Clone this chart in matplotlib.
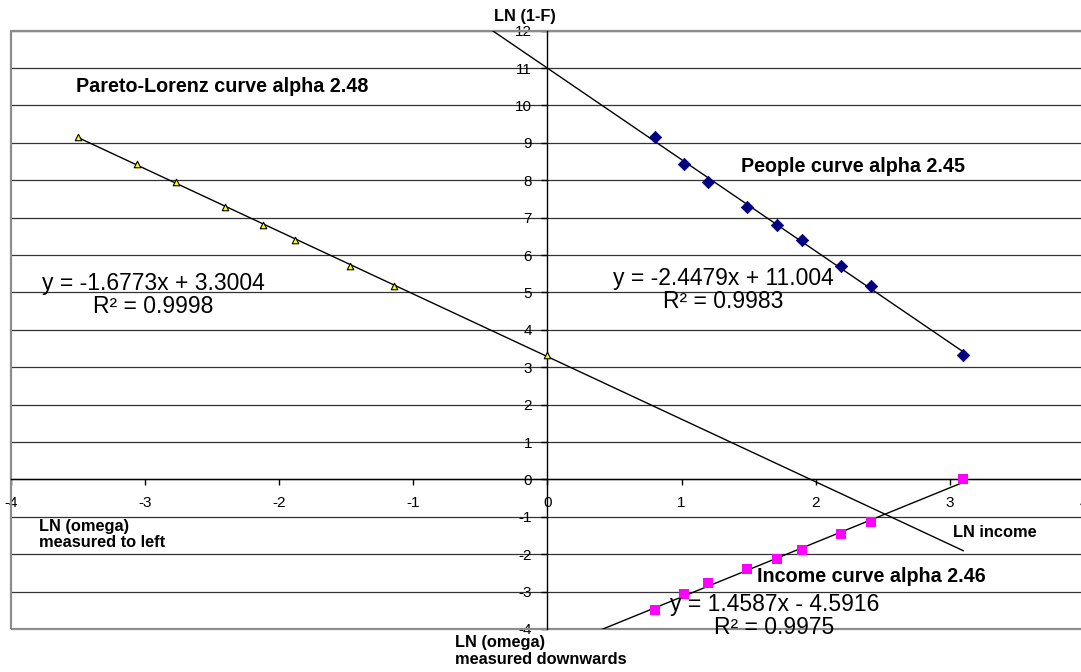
import numpy as np
import matplotlib
matplotlib.use("Agg")
import matplotlib.pyplot as plt
from matplotlib.patches import Rectangle

plt.rcParams['font.family'] = ['Liberation Sans', 'DejaVu Sans']

# ---- data ----
ln_income = [0.80, 1.02, 1.20, 1.49, 1.71, 1.90, 2.19, 2.41, 3.10]   # LN income
ln_1mF    = [9.17, 8.44, 7.95, 7.29, 6.80, 6.39, 5.72, 5.18, 3.34]   # LN (1-F)
ln_omega  = [-3.50, -3.06, -2.77, -2.40, -2.12, -1.88, -1.47, -1.14, 0.00]  # LN (omega)

x_ticks = [-4, -3, -2, -1, 0, 1, 2, 3, 4]
y_ticks = list(range(-4, 13))

eq_lorenz = "y = -1.6773x + 3.3004\nR² = 0.9998"
eq_people = "y = -2.4479x + 11.004\nR² = 0.9983"
eq_income = "y = 1.4587x - 4.5916\nR² = 0.9975"

inc = np.array(ln_income)
lnf = np.array(ln_1mF)
om = np.array(ln_omega)

fig = plt.figure(figsize=(10.81, 6.72), dpi=100)
W, H = 1081, 672
left_px, right_px, top_px, bot_px = 10.7, 1084.0, 30.7, 629.0
ax = fig.add_axes([left_px / W, 1 - bot_px / H, (right_px - left_px) / W, (bot_px - top_px) / H])
ax.set_xlim(-4, 4)
ax.set_ylim(-4, 12)

# gridlines
for yv in y_ticks:
    ax.axhline(yv, color='#333333', lw=0.9, zorder=1)

# border
ax.add_patch(Rectangle((0, 0), 1, 1, transform=ax.transAxes, fill=False,
                       edgecolor='#8c8c8c', lw=1.6, clip_on=False, zorder=3))

# spines through origin
for s in ['top', 'right']:
    ax.spines[s].set_visible(False)
ax.spines['left'].set_position(('data', 0))
ax.spines['bottom'].set_position(('data', 0))
ax.spines['left'].set_linewidth(1.0)
ax.spines['bottom'].set_linewidth(1.0)
ax.spines['left'].set_zorder(4)
ax.spines['bottom'].set_zorder(4)

ax.set_xticks(x_ticks)
ax.set_yticks(y_ticks)
ax.set_xticklabels([str(v) for v in x_ticks])
ax.set_yticklabels([str(v) for v in y_ticks])
ax.tick_params(axis='both', direction='out', length=4, width=1, labelsize=11,
               colors='black')
ax.tick_params(axis='y', pad=7)
ax.tick_params(axis='x', pad=8)

# trendlines
def trend(x, y, x0, x1):
    k, b = np.polyfit(x, y, 1)
    xs = np.linspace(x0, x1, 50)
    ax.plot(xs, k * xs + b, color='black', lw=1.0, zorder=5)

trend(inc, lnf, -1.0, inc.max())          # people
trend(om, lnf, om.min(), inc.max())       # Pareto-Lorenz
trend(inc, om, 0.0, inc.max())            # income

# series
ax.scatter(om, lnf, marker='^', s=22, facecolor='#ffff00', edgecolor='black',
           linewidth=0.8, zorder=6, clip_on=False)
ax.scatter(inc, lnf, marker='D', s=40, facecolor='#000080', edgecolor='#000080',
           linewidth=0.5, zorder=6, clip_on=False)
ax.scatter(inc, om, marker='s', s=50, facecolor='#ff00ff', edgecolor='#ff00ff',
           linewidth=0, zorder=6, clip_on=False)

bold = dict(fontweight='bold', color='black', clip_on=False, zorder=7)
ax.text(-0.168, 12.39, "LN (1-F)", ha='center', va='center', fontsize=11.8, **bold)
ax.text(-3.516, 10.51, "Pareto-Lorenz curve alpha 2.48", ha='left', va='center', fontsize=14.2, **bold)
ax.text(1.441, 8.38, "People curve alpha 2.45", ha='left', va='center', fontsize=14.2, **bold)
ax.text(3.022, -1.43, "LN income", ha='left', va='center', fontsize=11.8, **bold)
ax.text(1.561, -2.60, "Income curve alpha 2.46", ha='left', va='center', fontsize=14.2, **bold)
ax.text(-3.792, -1.47, "LN (omega)\nmeasured to left", ha='left', va='center',
        multialignment='left', fontsize=11.8, linespacing=1.1, **bold)
ax.text(-0.689, -4.59, "LN (omega)\nmeasured downwards", ha='left', va='center',
        multialignment='left', fontsize=11.8, linespacing=1.1, **bold)

reg = dict(color='black', clip_on=False, zorder=7, fontsize=16.5, linespacing=1.0,
           ha='center', va='center', multialignment='center')
ax.text(-2.939, 4.93, eq_lorenz, **reg)
ax.text(1.311, 5.067, eq_people, **reg)
ax.text(1.692, -3.65, eq_income, **reg)

fig.savefig("out.png", dpi=100, facecolor='white')
